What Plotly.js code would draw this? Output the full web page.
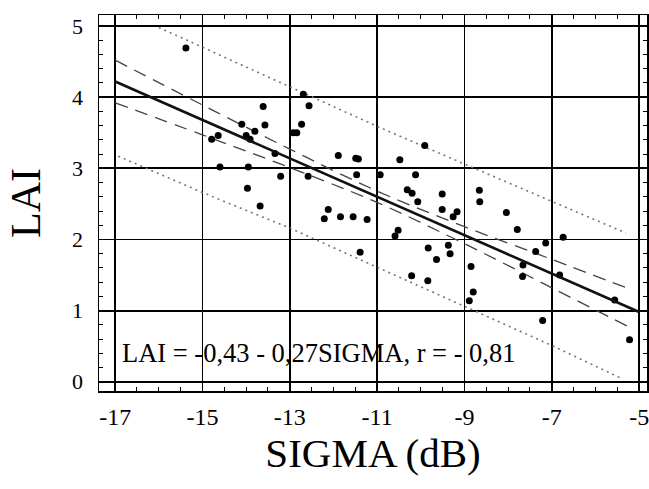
<!DOCTYPE html>
<html>
<head>
<meta charset="utf-8">
<script src="https://cdn.plot.ly/plotly-3.0.1.min.js"></script>
<style>html,body{margin:0;padding:0;background:#fff;}#chart{width:649px;height:489px;}</style>
</head>
<body>
<div id="chart"></div>
<script>
// Scatter observations (SIGMA dB, LAI)
const sigma = [-15.38,-13.61,-14.10,-13.57,-13.80,-14.00,-13.91,-14.79,-14.64,-14.60,-13.95,-13.97,
  -12.69,-12.56,-12.73,-12.92,-12.84,-13.34,-11.89,-11.49,-11.43,-10.48,-13.21,-12.58,-11.47,-10.93,
  -13.68,-12.12,-12.21,-11.84,-11.55,-11.23,-10.59,-10.52,-11.39,-9.91,-10.12,-10.31,-10.20,-9.51,
  -10.07,-9.51,-9.26,-9.17,-8.66,-8.65,-8.04,-7.79,-9.83,-9.37,-9.33,-9.64,-10.21,-9.84,-8.85,
  -8.80,-8.89,-7.66,-7.67,-7.37,-7.14,-6.82,-5.56,-7.21,-5.22,-6.74];
const lai = [4.69,3.87,3.62,3.61,3.52,3.46,3.41,3.41,3.46,3.02,3.02,2.72,
  4.04,3.88,3.62,3.50,3.50,3.21,3.18,3.14,3.13,3.12,2.89,2.89,2.91,2.91,
  2.47,2.42,2.29,2.32,2.32,2.28,2.05,2.13,1.82,3.32,2.91,2.70,2.65,2.64,
  2.53,2.42,2.32,2.39,2.69,2.53,2.38,2.14,1.88,1.92,1.80,1.72,1.49,1.42,1.62,
  1.26,1.14,1.64,1.48,1.83,1.95,1.50,1.15,0.86,0.59,2.03];

// Regression line
const regX = [-17, -5];
const regY = [4.22, 0.98];

// Confidence band (dashed)
const confX = [-17, -15, -13, -11, -9, -7, -5.2];
const confUpper = [4.52, 3.89, 3.27, 2.68, 2.18, 1.72, 1.30];
const confLower = [3.92, 3.47, 3.01, 2.52, 1.94, 1.32, 0.76];

// Prediction band (dotted)
const predUpX = [-16.0, -13, -11, -9, -7, -5.3];
const predUpY = [4.98, 4.14, 3.59, 3.06, 2.53, 2.09];
const predLoX = [-16.93, -15, -13, -11, -9, -7, -5.38];
const predLoY = [3.17, 2.66, 2.16, 1.61, 1.07, 0.51, 0.04];

const xTicks = [-17, -15, -13, -11, -9, -7, -5];
const xTickText = ['-17', '-15', '-13', '-11', '-9', '-7', '-5'];
const yTicks = [0, 1, 2, 3, 4, 5];
const yTickText = ['0', '1', '2', '3', '4', '5'];

const serif = 'Liberation Serif, Times New Roman, serif';
const xRange = [-17.37, -4.82];
const yRange = [-0.13, 5.155];

const traces = [
  {x: predUpX, y: predUpY, mode: 'lines', line: {color: '#777', width: 1.6, dash: '2px,4px'}, hoverinfo: 'skip'},
  {x: predLoX, y: predLoY, mode: 'lines', line: {color: '#777', width: 1.6, dash: '2px,4px'}, hoverinfo: 'skip'},
  {x: confX, y: confUpper, mode: 'lines', line: {color: '#444', width: 1.3, dash: '13px,8px', shape: 'spline'}, hoverinfo: 'skip'},
  {x: confX, y: confLower, mode: 'lines', line: {color: '#444', width: 1.3, dash: '13px,8px', shape: 'spline'}, hoverinfo: 'skip'},
  {x: regX, y: regY, mode: 'lines', line: {color: '#111', width: 2.6}, xaxis: 'x2', yaxis: 'y2'},
  {x: sigma, y: lai, mode: 'markers', marker: {color: '#000', size: 7}}
];

const layout = {
  width: 649, height: 489,
  margin: {l: 99, r: 2, t: 15, b: 98},
  paper_bgcolor: '#fff', plot_bgcolor: '#fff',
  showlegend: false,
  font: {family: serif, color: '#000'},
  xaxis: {
    range: xRange,
    tickmode: 'array', tickvals: xTicks, ticktext: xTickText,
    showgrid: true, gridcolor: '#000', gridwidth: 1.8,
    zeroline: false,
    showline: true, linecolor: '#000', linewidth: 1.5, mirror: true,
    ticks: '', ticklabelstandoff: 4, ticklabeloverflow: 'allow',
    tickfont: {family: serif, size: 24, color: '#000'},
    title: {text: 'SIGMA (dB)', font: {family: serif, size: 41, color: '#000'}, standoff: 0}
  },
  yaxis: {
    range: yRange,
    tickmode: 'array', tickvals: yTicks, ticktext: yTickText,
    showgrid: true, gridcolor: '#000', gridwidth: 1.8,
    zeroline: true, zerolinecolor: '#000', zerolinewidth: 1.8,
    showline: true, linecolor: '#000', linewidth: 1.5, mirror: true,
    ticks: '', ticklabelstandoff: 10,
    tickfont: {family: serif, size: 22, color: '#000'},
    title: {text: 'LAI', font: {family: serif, size: 42, color: '#000'}, standoff: 18}
  },
  xaxis2: {
    overlaying: 'x', matches: 'x', range: xRange, side: 'bottom',
    tickmode: 'linear', tick0: -17, dtick: 0.5,
    ticks: 'inside', ticklen: 4, tickcolor: '#000', tickwidth: 1,
    showticklabels: false, showgrid: false, zeroline: false,
    showline: false, mirror: 'allticks'
  },
  yaxis2: {
    overlaying: 'y', matches: 'y', range: yRange, side: 'left',
    tickmode: 'linear', tick0: 0, dtick: 0.2,
    ticks: 'inside', ticklen: 4, tickcolor: '#000', tickwidth: 1,
    showticklabels: false, showgrid: false, zeroline: false,
    showline: false, mirror: 'allticks'
  },
  annotations: [{
    x: -16.9, y: 0.4, xref: 'x', yref: 'y', xanchor: 'left', yanchor: 'middle',
    text: 'LAI = -0,43 - 0,27SIGMA, r = - 0,81', showarrow: false,
    font: {family: serif, size: 26.5, color: '#000'}
  }]
};

Plotly.newPlot('chart', traces, layout, {displayModeBar: false, staticPlot: true});
</script>
</body>
</html>
